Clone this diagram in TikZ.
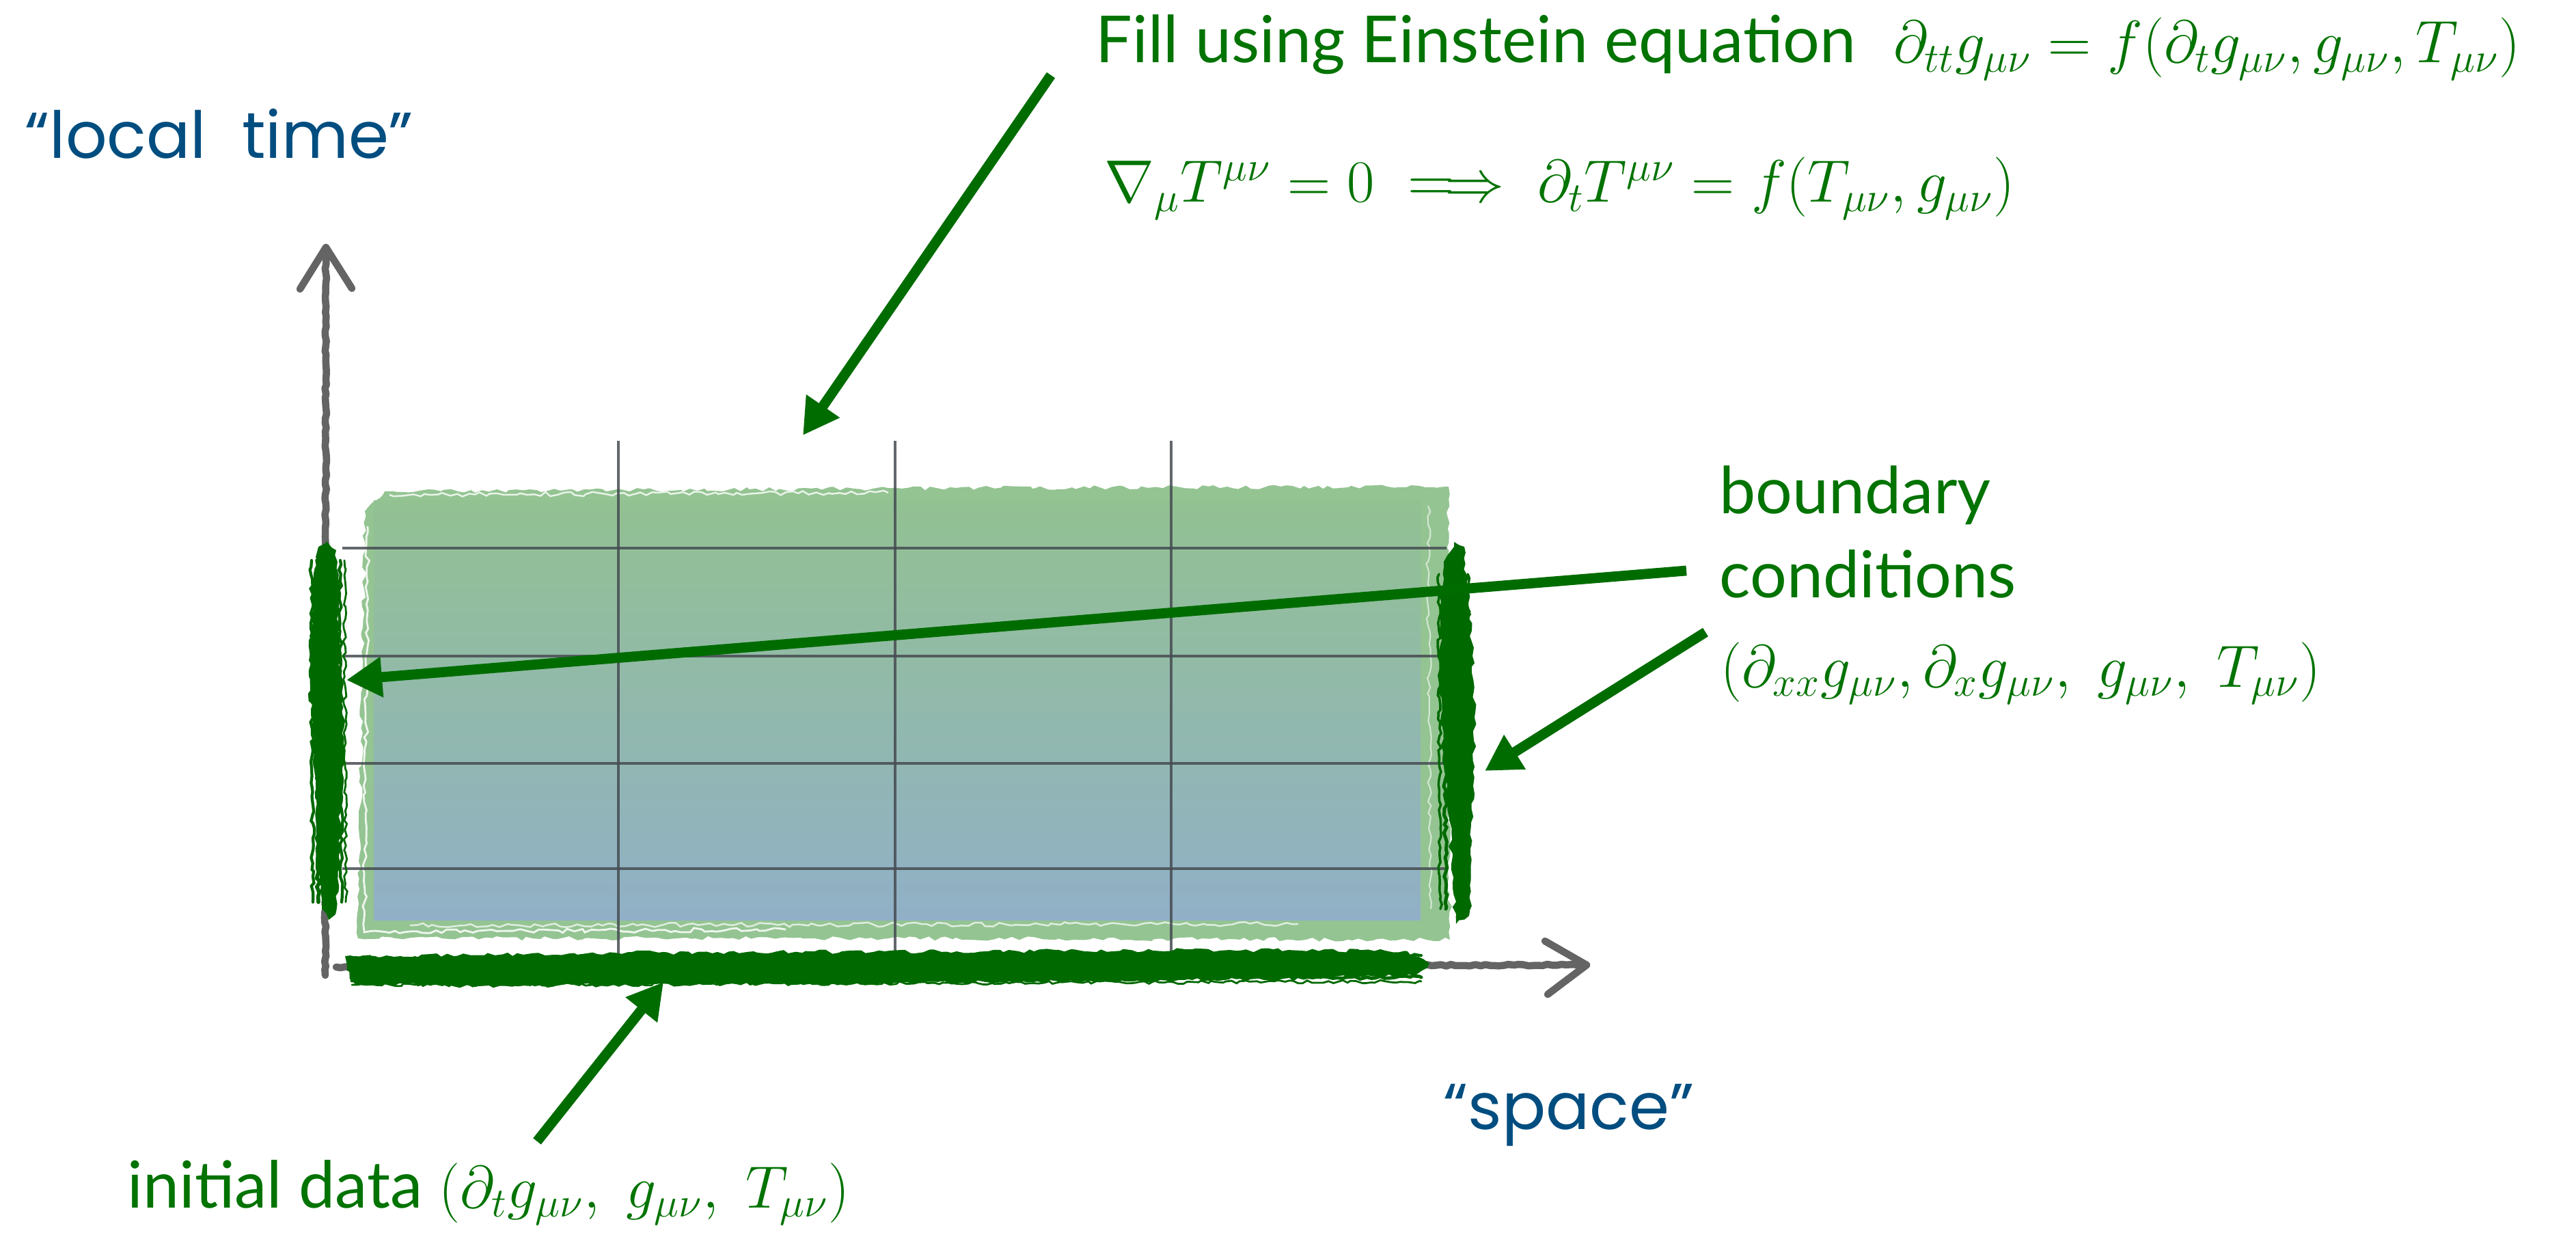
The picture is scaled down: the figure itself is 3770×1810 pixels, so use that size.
\documentclass[tikz,border=0pt]{standalone}
\usepackage{amsmath}
\usepackage{fontspec}
\newfontfamily\labfont{Lato}
\newfontfamily\comicfont{Poppins}
\usetikzlibrary{arrows.meta,decorations.pathmorphing}
\definecolor{tgreen}{RGB}{0,115,0}
\definecolor{agreen}{RGB}{0,108,0}
\definecolor{sgreen}{RGB}{0,105,0}
\definecolor{lgreen}{RGB}{148,196,146}
\definecolor{gtop}{RGB}{146,193,146}
\definecolor{gbot}{RGB}{145,176,199}
\definecolor{axgray}{RGB}{100,100,100}
\definecolor{gridc}{RGB}{70,76,82}
\definecolor{tblue}{RGB}{0,77,128}
\tikzset{
  lab/.style={anchor=base west, inner sep=0pt, text=tgreen, font=\labfont\fontsize{27pt}{31pt}\selectfont},
  comic/.style={anchor=base west, inner sep=0pt, text=tblue, font=\comicfont\fontsize{27pt}{32pt}\selectfont},
  garrow/.style={draw=agreen, line width=4.2pt, -{Triangle[length=0.52cm,width=0.56cm]}},
  axisline/.style={draw=axgray, line width=3pt, line cap=round, line join=round},
  roughaxis/.style={axisline, decorate, decoration={random steps, segment length=2pt, amplitude=0.35pt}},
  gridline/.style={draw=gridc, line width=1.35pt, opacity=0.85},
  rough/.style={decorate, decoration={random steps, segment length=2.5pt, amplitude=0.9pt}},
  scrib/.style={draw=sgreen, line cap=round, decorate, decoration={random steps, segment length=2pt, amplitude=0.7pt}}
}
\begin{document}
\begin{tikzpicture}[x=0.01cm,y=-0.01cm]
\pgfmathsetseed{11}
\useasboundingbox (0,0) rectangle (3770,1810);

% light green frame and gradient region
\fill[lgreen, rough] (563,719) -- (1400,714) -- (2120,712) -- (2122,1375) -- (1300,1373) -- (524,1373) -- (534,748) -- cycle;
\shade[top color=gtop, bottom color=gbot] (547,733) rectangle (2079,1346);
\draw[white, line width=0.8pt, opacity=0.85, rough] (538,770) -- (533,1364) -- (1150,1360);
\draw[white, line width=0.7pt, opacity=0.8, rough] (570,724) -- (1300,721);
\draw[white, line width=0.7pt, opacity=0.7, rough] (600,1354) -- (1900,1352);
\draw[white, line width=0.6pt, opacity=0.6, rough] (2090,740) -- (2094,1330);

% grid
\foreach \y in {802,960,1117,1271} \draw[gridline] (501,\y) -- (2117,\y);
\foreach \x in {905,1310,1714} \draw[gridline] (\x,645) -- (\x,1403);

% axes
\draw[roughaxis] (476,1427) -- (477,372);
\draw[axisline] (439,423) -- (477,362) -- (515,422);
\draw[roughaxis] (492,1415) -- (2312,1412);
\draw[axisline] (2261,1377) -- (2322,1412) -- (2265,1455);

% boundary scribbles (left)
\fill[sgreen, rough] (478,792) -- (492,805) -- (497,870) -- (495,930) -- (501,1010) -- (503,1090) -- (499,1170) -- (497,1260) -- (491,1338) -- (481,1346) -- (471,1330) -- (466,1250) -- (462,1150) -- (457,1060) -- (452,990) -- (456,920) -- (459,850) -- (466,800) -- cycle;
\foreach \dx/\w in {-22/1.2, -14/1.6, 20/1.2, 26/0.8} \draw[scrib, line width=\w pt] (478+\dx,820) -- (480+\dx,1320);
% boundary scribbles (right)
\fill[sgreen, rough] (2128,793) -- (2143,800) -- (2149,880) -- (2155,960) -- (2158,1050) -- (2156,1150) -- (2152,1250) -- (2150,1340) -- (2131,1352) -- (2126,1300) -- (2121,1200) -- (2112,1100) -- (2106,1000) -- (2108,900) -- (2113,830) -- cycle;
\foreach \dx/\w in {-26/1.0, -18/1.4, 16/1.0} \draw[scrib, line width=\w pt] (2132+\dx,840) -- (2134+\dx,1330);
% initial data scribble (bottom)
\fill[sgreen, rough] (505,1399) -- (900,1394) -- (1400,1392) -- (1800,1390) -- (2060,1392) -- (2092,1410) -- (2070,1428) -- (1600,1436) -- (1100,1440) -- (700,1443) -- (520,1440) -- (508,1420) -- cycle;
\foreach \dy/\w in {-14/1.2, 18/1.4, 24/0.8} \draw[scrib, line width=\w pt] (515,1417+\dy) -- (2080,1412+\dy);

% labels
\node[comic] (ltime) at (36,232) {“local\hspace{0.55em}time”};
\node[comic] (space) at (2112,1652) {“space”};
\node[lab] (fill) at (1603,92) {Fill using Einstein equation\hspace{0.55cm}$\partial_{tt} g_{\mu\nu} = f(\partial_t g_{\mu\nu}, g_{\mu\nu}, T_{\mu\nu})$};
\node[lab] (cons) at (1616,296) {$\nabla_{\mu} T^{\mu\nu} = 0 \implies \partial_t T^{\mu\nu} = f(T_{\mu\nu}, g_{\mu\nu})$};
\node[lab] (bd1) at (2516,752) {boundary};
\node[lab] (bd2) at (2516,874) {conditions};
\node[lab] (bd3) at (2518,1005) {$(\partial_{xx} g_{\mu\nu}, \partial_x g_{\mu\nu},\ g_{\mu\nu},\ T_{\mu\nu})$};
\node[lab] (init) at (186,1767) {initial data $(\partial_t g_{\mu\nu},\ g_{\mu\nu},\ T_{\mu\nu})$};

% arrows
\coordinate (fillS) at (1538,110);
\coordinate (fillT) at (1175,637);
\coordinate (bcaS) at (2468,835);
\coordinate (bcaT) at (507,995);
\coordinate (bcbS) at (2496,925);
\coordinate (bcbT) at (2173,1128);
\coordinate (initS) at (786,1670);
\coordinate (initT) at (971,1437);
\draw[garrow] (fillS) -- (fillT);
\draw[garrow] (bcaS) -- (bcaT);
\draw[garrow] (bcbS) -- (bcbT);
\draw[garrow] (initS) -- (initT);
\end{tikzpicture}
\end{document}
